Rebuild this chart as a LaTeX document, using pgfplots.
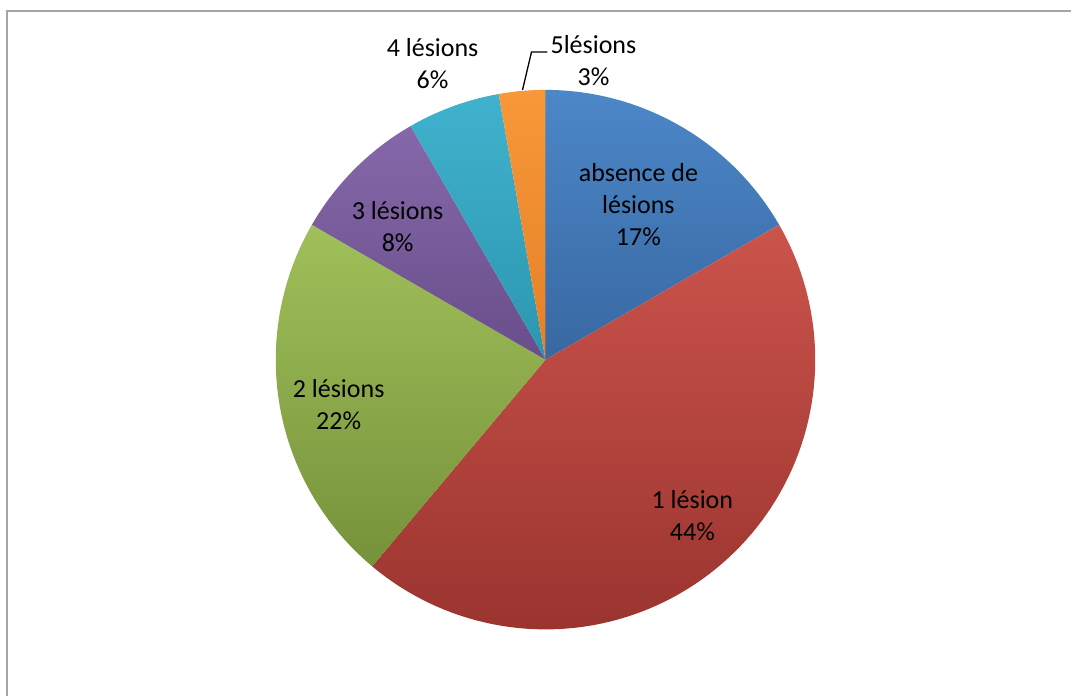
\documentclass[border=0pt]{standalone}
\usepackage{pgfplots}
\usepackage{pgfplotstable}
\pgfplotsset{compat=1.18}
\usepackage{fontspec}
\setmainfont{Carlito}

\definecolor{bluetop}{RGB}{76,135,200}
\definecolor{bluebot}{RGB}{56,104,162}
\definecolor{redtop}{RGB}{203,84,76}
\definecolor{redbot}{RGB}{155,52,47}
\definecolor{greentop}{RGB}{160,192,90}
\definecolor{greenbot}{RGB}{118,146,58}
\definecolor{purpletop}{RGB}{134,104,170}
\definecolor{purplebot}{RGB}{104,78,138}
\definecolor{cyantop}{RGB}{64,178,205}
\definecolor{cyanbot}{RGB}{44,150,176}
\definecolor{orangetop}{RGB}{248,152,56}
\definecolor{orangebot}{RGB}{228,128,40}
\definecolor{framegray}{RGB}{165,165,165}

% counts per category (order: absence, 1, 2, 3, 4, 5 lesions)
\pgfplotstableread{
n
6
16
8
3
2
1
}\pietable

\pgfplotstablegetelem{0}{n}\of\pietable \let\nA\pgfplotsretval
\pgfplotstablegetelem{1}{n}\of\pietable \let\nB\pgfplotsretval
\pgfplotstablegetelem{2}{n}\of\pietable \let\nC\pgfplotsretval
\pgfplotstablegetelem{3}{n}\of\pietable \let\nD\pgfplotsretval
\pgfplotstablegetelem{4}{n}\of\pietable \let\nE\pgfplotsretval
\pgfplotstablegetelem{5}{n}\of\pietable \let\nF\pgfplotsretval
\pgfmathsetmacro\tot{\nA+\nB+\nC+\nD+\nE+\nF}
\pgfmathsetmacro\aA{90}
\pgfmathsetmacro\aB{\aA-360*\nA/\tot}
\pgfmathsetmacro\aC{\aB-360*\nB/\tot}
\pgfmathsetmacro\aD{\aC-360*\nC/\tot}
\pgfmathsetmacro\aE{\aD-360*\nD/\tot}
\pgfmathsetmacro\aF{\aE-360*\nE/\tot}
\pgfmathsetmacro\aG{\aF-360*\nF/\tot}

\begin{document}
\begin{tikzpicture}
\begin{axis}[
  width=1072pt, height=697pt, scale only axis,
  xmin=0, xmax=1072, ymin=0, ymax=697,
  hide axis, clip=false,
  every axis plot/.append style={no markers, draw=none, samples=90, variable=\t},
]
\path (0,0) rectangle (1072,697);
\def\cx{546}\def\cy{337}\def\r{270}
\addplot[domain=\aB:\aA, top color=bluetop, bottom color=bluebot]
  ({\cx+\r*cos(\t)},{\cy+\r*sin(\t)}) -- (\cx,\cy) -- cycle;
\addplot[domain=\aC:\aB, top color=redtop, bottom color=redbot]
  ({\cx+\r*cos(\t)},{\cy+\r*sin(\t)}) -- (\cx,\cy) -- cycle;
\addplot[domain=\aD:\aC, top color=greentop, bottom color=greenbot]
  ({\cx+\r*cos(\t)},{\cy+\r*sin(\t)}) -- (\cx,\cy) -- cycle;
\addplot[domain=\aE:\aD, top color=purpletop, bottom color=purplebot]
  ({\cx+\r*cos(\t)},{\cy+\r*sin(\t)}) -- (\cx,\cy) -- cycle;
\addplot[domain=\aF:\aE, top color=cyantop, bottom color=cyanbot]
  ({\cx+\r*cos(\t)},{\cy+\r*sin(\t)}) -- (\cx,\cy) -- cycle;
\addplot[domain=\aG:\aF, top color=orangetop, bottom color=orangebot]
  ({\cx+\r*cos(\t)},{\cy+\r*sin(\t)}) -- (\cx,\cy) -- cycle;

% frame (left and top edges)
\draw[framegray, line width=2pt] (7,0) -- (7,685.5) -- (1072,685.5);

% leader line for 5 lesions
\draw[black, line width=1.3pt] (523,607) -- (532,645) -- (548,645);

\tikzset{lbl/.style={align=center, font=\fontsize{26}{32}\selectfont, text=black, inner sep=0pt}}
\node[lbl] at (639,492) {absence de\\lésions\\17\%};
\node[lbl] at (693,181) {1 lésion\\44\%};
\node[lbl] at (339,292.5) {2 lésions\\22\%};
\node[lbl] at (398,470.5) {3 lésions\\8\%};
\node[lbl] at (433,633) {4 lésions\\6\%};
\node[lbl] at (594,636.5) {5lésions\\3\%};
\end{axis}
\end{tikzpicture}
\end{document}
